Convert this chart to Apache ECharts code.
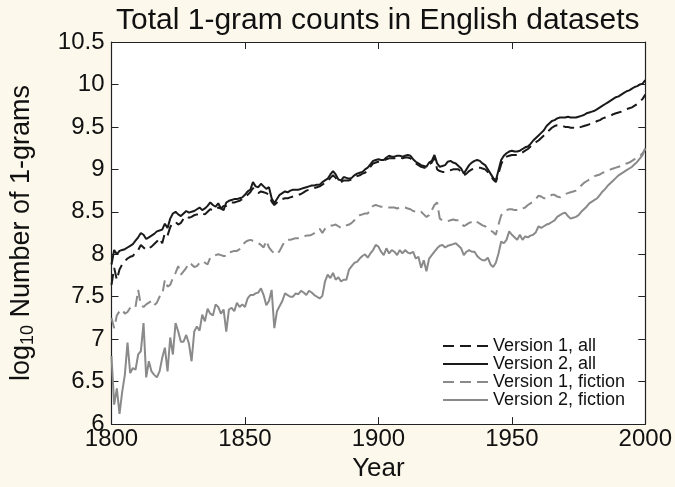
<!DOCTYPE html>
<html>
<head>
<meta charset="utf-8">
<script src="https://cdn.jsdelivr.net/npm/echarts@6/dist/echarts.min.js"></script>
<style>
html,body{margin:0;padding:0;background:#fcf8ec;}
#chart{width:675px;height:487px;}
</style>
</head>
<body>
<div id="chart"></div>
<script>
const startYear = 1800;
const endYear = 2000;
const xTicks = [1800, 1850, 1900, 1950, 2000];
const yTicks = [6, 6.5, 7, 7.5, 8, 8.5, 9, 9.5, 10, 10.5];
const seriesNames = ['Version 1, all', 'Version 2, all', 'Version 1, fiction', 'Version 2, fiction'];

// values per year, 1800..2000
const v1All = [
 7.64,7.84,7.70,7.82,7.88,7.92,7.95,7.97,7.98,8.02,
 8.05,8.11,8.08,8.05,8.07,8.09,8.12,8.15,8.19,8.13,
 8.25,8.22,8.32,8.37,8.38,8.35,8.37,8.42,8.45,8.43,
 8.44,8.46,8.47,8.46,8.48,8.47,8.50,8.53,8.52,8.52,
 8.55,8.54,8.57,8.57,8.59,8.61,8.61,8.62,8.63,8.65,
 8.68,8.70,8.73,8.78,8.75,8.72,8.74,8.73,8.72,8.70,
 8.62,8.58,8.61,8.64,8.65,8.66,8.66,8.67,8.68,8.69,
 8.70,8.71,8.73,8.75,8.76,8.77,8.78,8.79,8.80,8.82,
 8.84,8.86,8.90,8.93,8.90,8.86,8.85,8.87,8.87,8.87,
 8.88,8.90,8.92,8.93,8.95,8.96,8.99,9.03,9.07,9.08,
 9.09,9.09,9.10,9.12,9.13,9.13,9.13,9.14,9.14,9.13,
 9.14,9.14,9.13,9.10,9.07,9.05,9.03,9.02,9.02,9.06,
 9.08,9.14,9.00,8.98,8.97,8.97,8.98,8.99,9.00,9.00,
 9.00,8.97,8.93,8.95,8.98,9.00,9.01,9.02,9.02,9.01,
 9.00,8.97,8.93,8.88,8.85,8.95,9.06,9.13,9.15,9.16,
 9.17,9.17,9.17,9.18,9.20,9.22,9.24,9.27,9.30,9.32,
 9.34,9.37,9.40,9.43,9.46,9.49,9.51,9.52,9.52,9.51,
 9.50,9.50,9.49,9.49,9.48,9.49,9.50,9.51,9.52,9.53,
 9.54,9.55,9.57,9.58,9.60,9.61,9.62,9.63,9.65,9.66,
 9.67,9.68,9.70,9.71,9.72,9.73,9.75,9.77,9.80,9.83,
 9.88];
const v2All = [
 7.88,8.05,8.00,8.04,8.05,8.06,8.08,8.10,8.12,8.16,
 8.20,8.25,8.23,8.18,8.20,8.22,8.24,8.27,8.28,8.29,
 8.36,8.31,8.42,8.48,8.50,8.47,8.45,8.48,8.51,8.49,
 8.50,8.51,8.53,8.55,8.52,8.54,8.57,8.61,8.58,8.56,
 8.60,8.54,8.52,8.61,8.63,8.64,8.65,8.65,8.66,8.67,
 8.70,8.74,8.76,8.85,8.80,8.79,8.83,8.80,8.77,8.79,
 8.66,8.60,8.65,8.70,8.72,8.74,8.73,8.75,8.76,8.76,
 8.76,8.77,8.78,8.79,8.80,8.81,8.81,8.82,8.82,8.85,
 8.87,8.89,8.94,8.98,8.94,8.88,8.87,8.91,8.90,8.89,
 8.90,8.93,8.95,8.96,8.97,9.00,9.02,9.06,9.10,9.11,
 9.12,9.11,9.11,9.14,9.16,9.15,9.15,9.16,9.16,9.15,
 9.16,9.17,9.16,9.12,9.09,9.07,9.05,9.04,9.03,9.08,
 9.10,9.17,9.07,9.03,9.04,9.05,9.09,9.10,9.08,9.07,
 9.04,9.01,8.95,9.00,9.05,9.08,9.10,9.11,9.10,9.07,
 9.05,9.00,8.95,8.90,8.87,8.99,9.11,9.16,9.19,9.21,
 9.22,9.21,9.21,9.22,9.24,9.26,9.27,9.30,9.34,9.37,
 9.40,9.43,9.46,9.51,9.54,9.57,9.58,9.60,9.61,9.61,
 9.61,9.62,9.61,9.61,9.61,9.62,9.63,9.64,9.66,9.67,
 9.68,9.69,9.71,9.73,9.75,9.77,9.79,9.81,9.83,9.85,
 9.86,9.88,9.90,9.92,9.93,9.95,9.97,9.98,10.00,10.01,
 10.05];
const v1Fiction = [
 7.25,7.13,7.28,7.33,7.35,7.30,7.32,7.37,7.36,7.38,
 7.58,7.40,7.38,7.41,7.43,7.45,7.40,7.43,7.50,7.52,
 7.70,7.62,7.64,7.72,7.78,7.86,7.76,7.80,7.84,7.90,
 7.88,7.85,7.86,7.90,7.92,7.90,7.88,7.96,7.98,7.99,
 8.00,7.99,7.98,7.98,8.02,8.03,8.04,8.04,8.06,8.10,
 8.14,8.16,8.17,8.16,8.15,8.13,8.11,8.08,8.16,8.08,
 8.04,8.01,8.00,8.04,8.10,8.16,8.17,8.17,8.18,8.19,
 8.19,8.20,8.21,8.22,8.22,8.23,8.25,8.27,8.30,8.25,
 8.30,8.32,8.34,8.34,8.35,8.33,8.31,8.33,8.34,8.35,
 8.37,8.40,8.44,8.46,8.47,8.48,8.48,8.53,8.57,8.58,
 8.57,8.56,8.56,8.55,8.55,8.55,8.55,8.54,8.55,8.55,
 8.55,8.54,8.53,8.51,8.50,8.49,8.50,8.47,8.44,8.46,
 8.52,8.58,8.61,8.42,8.40,8.40,8.39,8.40,8.41,8.40,
 8.40,8.37,8.33,8.35,8.37,8.38,8.40,8.38,8.36,8.34,
 8.33,8.31,8.28,8.26,8.23,8.35,8.46,8.49,8.52,8.53,
 8.53,8.52,8.52,8.52,8.54,8.55,8.58,8.60,8.62,8.65,
 8.69,8.68,8.66,8.66,8.68,8.70,8.70,8.68,8.67,8.69,
 8.71,8.72,8.73,8.74,8.75,8.78,8.81,8.84,8.86,8.88,
 8.90,8.92,8.93,8.94,8.96,8.97,8.98,9.00,9.01,9.02,
 9.03,9.04,9.06,9.07,9.08,9.10,9.12,9.14,9.16,9.19,
 9.24];
const v2Fiction = [
 6.80,6.23,6.42,6.12,6.38,6.58,6.96,6.60,6.66,6.64,
 6.82,6.86,7.19,6.55,6.74,6.62,6.58,6.55,6.62,6.78,
 6.90,6.62,7.02,6.82,7.19,7.09,6.97,6.97,7.05,6.95,
 6.74,7.09,7.15,7.10,7.29,7.21,7.36,7.30,7.28,7.41,
 7.38,7.30,7.35,7.09,7.35,7.37,7.33,7.43,7.38,7.41,
 7.38,7.48,7.52,7.52,7.54,7.55,7.60,7.52,7.40,7.45,
 7.58,7.13,7.33,7.39,7.45,7.54,7.52,7.50,7.50,7.54,
 7.53,7.57,7.55,7.52,7.57,7.55,7.52,7.50,7.48,7.51,
 7.68,7.76,7.72,7.78,7.70,7.73,7.68,7.70,7.70,7.82,
 7.86,7.90,7.91,7.95,7.98,8.00,7.96,8.01,8.05,8.11,
 8.09,8.03,7.99,8.07,8.01,8.05,8.03,7.99,8.05,8.01,
 8.05,8.02,8.01,8.03,7.95,7.97,7.84,7.93,7.80,7.95,
 7.99,8.03,8.07,8.10,8.11,8.08,8.10,8.11,8.12,8.13,
 8.10,8.07,7.99,8.03,8.05,8.03,8.03,7.98,7.95,7.93,
 7.93,7.96,7.88,7.85,7.90,8.01,8.15,8.13,8.17,8.27,
 8.23,8.20,8.17,8.23,8.17,8.21,8.20,8.22,8.23,8.26,
 8.33,8.31,8.33,8.35,8.36,8.38,8.40,8.44,8.46,8.48,
 8.49,8.45,8.42,8.43,8.44,8.46,8.50,8.53,8.56,8.60,
 8.62,8.64,8.66,8.70,8.74,8.77,8.81,8.84,8.87,8.90,
 8.93,8.95,8.97,8.99,9.01,9.03,9.06,9.09,9.13,9.17,
 9.25];

const years = [];
for (let y = startYear; y <= endYear; y++) years.push(y);
const pairs = arr => arr.map((v, i) => [years[i], v]);

const FONT = 'Liberation Sans, Arial, sans-serif';
const BLACK = '#1a1a1a';
const GRAY = '#8a8a8a';

const chart = echarts.init(document.getElementById('chart'), null, {renderer: 'canvas'});

function mkSeries(name, data, color, dashed, z) {
  return {
    name: name, type: 'line', data: pairs(data), showSymbol: false, symbol: 'none',
    xAxisIndex: 0, yAxisIndex: 0, z: z,
    lineStyle: {color: color, width: 2, type: dashed ? [11, 6] : 'solid'},
    itemStyle: {color: color},
    emphasis: {disabled: true}, animation: false
  };
}

const option = {
  backgroundColor: '#fcf8ec',
  animation: false,
  title: {
    text: 'Total 1-gram counts in English datasets',
    left: 111, top: 1,
    textStyle: {fontFamily: FONT, fontWeight: 'normal', fontSize: 30, color: '#111'}
  },
  grid: {left: 108, right: 27, top: 42, bottom: 60, show: true, backgroundColor: '#ffffff', borderWidth: 0},
  legend: {
    orient: 'vertical', left: 437, top: 332, itemGap: 0, itemWidth: 45, itemHeight: 18.5,
    data: seriesNames,
    itemStyle: {opacity: 0, color: 'transparent', borderWidth: 0},
    textStyle: {fontFamily: FONT, fontSize: 18, color: '#111', lineHeight: 18},
    backgroundColor: 'transparent'
  },
  xAxis: [{
    type: 'value', min: 1800, max: 2000, interval: 50, position: 'bottom',
    name: 'Year', nameLocation: 'middle', nameGap: 30,
    nameTextStyle: {fontFamily: FONT, fontSize: 26, color: '#111'},
    axisLine: {show: true, lineStyle: {color: '#222', width: 1.2}},
    axisTick: {show: true, inside: true, length: 7, lineStyle: {color: '#222'}},
    axisLabel: {fontFamily: FONT, fontSize: 24, color: '#111', margin: 3,
      formatter: v => (xTicks.indexOf(v) >= 0 ? String(v) : '')},
    splitLine: {show: false}
  }, {
    type: 'value', min: 1800, max: 2000, interval: 50, position: 'top',
    axisLine: {show: true, lineStyle: {color: '#222', width: 1.2}},
    axisTick: {show: true, inside: true, length: 7, lineStyle: {color: '#222'}},
    axisLabel: {show: false}, splitLine: {show: false}
  }],
  yAxis: [{
    type: 'value', min: 6, max: 10.5, interval: 0.5, position: 'left',
    name: '{a|log}{b|10}{a| Number of 1-grams}', nameLocation: 'middle', nameGap: 74, nameRotate: 90,
    nameTextStyle: {fontFamily: FONT, color: '#111',
      rich: {a: {fontFamily: FONT, fontSize: 27, color: '#111'},
             b: {fontFamily: FONT, fontSize: 18, color: '#111', padding: [14, 0, 0, 0]}}},
    axisLine: {show: true, lineStyle: {color: '#222', width: 1.2}},
    axisTick: {show: true, inside: true, length: 7, lineStyle: {color: '#222'}},
    axisLabel: {fontFamily: FONT, fontSize: 24, color: '#111', margin: 7,
      formatter: v => (yTicks.indexOf(v) >= 0 ? String(v) : '')},
    splitLine: {show: false}
  }, {
    type: 'value', min: 6, max: 10.5, interval: 0.5, position: 'right',
    axisLine: {show: true, lineStyle: {color: '#222', width: 1.2}},
    axisTick: {show: true, inside: true, length: 7, lineStyle: {color: '#222'}},
    axisLabel: {show: false}, splitLine: {show: false}
  }],
  series: [
    mkSeries(seriesNames[0], v1All, BLACK, true, 4),
    mkSeries(seriesNames[1], v2All, BLACK, false, 3),
    mkSeries(seriesNames[2], v1Fiction, GRAY, true, 2),
    mkSeries(seriesNames[3], v2Fiction, GRAY, false, 1)
  ]
};
chart.setOption(option);
</script>
</body>
</html>
